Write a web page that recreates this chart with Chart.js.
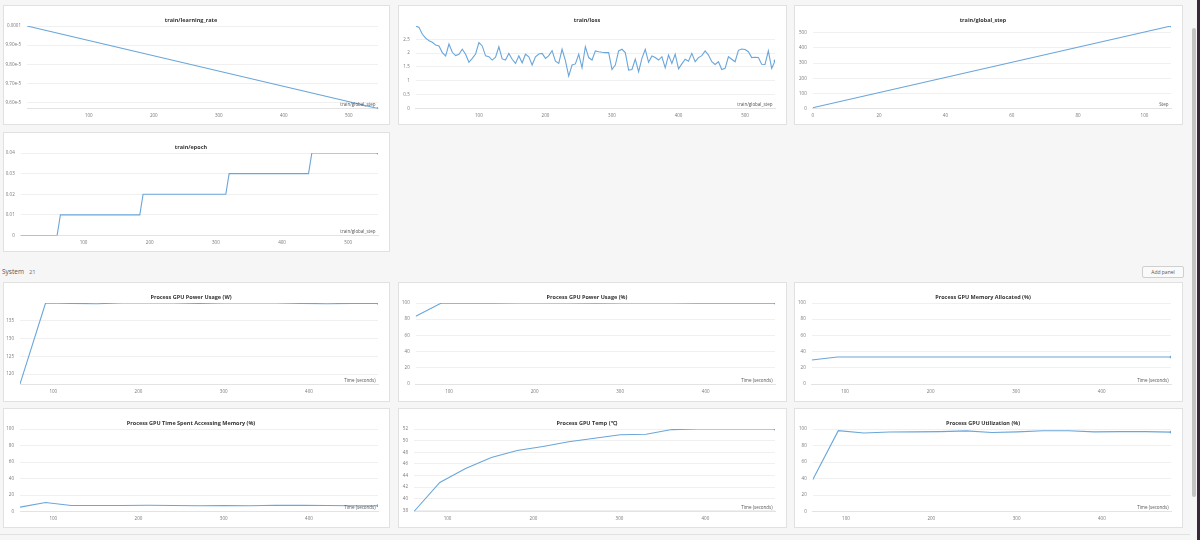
<!DOCTYPE html>
<html>
<head>
<meta charset="utf-8">
<title>Training dashboard</title>
<script src="https://cdn.jsdelivr.net/npm/chart.js@4.4.0/dist/chart.umd.min.js"></script>
<style>
  body { margin: 0; width: 1200px; height: 540px; background: #f6f6f6; overflow: hidden; position: relative; font-family: 'Open Sans', sans-serif; }
  .panel { position: absolute; box-sizing: border-box; background: #fff; border: 1px solid #e1e1e1; }
  .panel canvas { display: block; }
  #section { position: absolute; left: 2px; top: 267px; font-size: 6.5px; color: #555; }
  #section span { color: #777; margin-left: 5px; font-size: 6px; }
  #addPanel { position: absolute; left: 1142px; top: 266px; width: 42px; height: 12px; box-sizing: border-box; border: 1px solid #cfcfcf; border-radius: 2px; background: #fafafa; color: #555; font-size: 5px; line-height: 10px; text-align: center; }
  #scroll { position: absolute; left: 1192px; top: 28px; width: 4px; height: 469px; background: #c4c4c4; border-radius: 2px; }
  #edge { position: absolute; left: 1197px; top: 0; width: 3px; height: 540px; background: #3a2838; }
  #bottomLine { position: absolute; left: 0; top: 534px; width: 1190px; height: 1px; background: #e2e2e2; }
</style>
</head>
<body>
<div id="section">System<span>21</span></div>
<div id="addPanel">Add panel</div>
<div id="scroll"></div>
<div id="edge"></div>
<div id="bottomLine"></div>
<script>
const LINE = '#6aa6da';

// train/* charts, x = train/global_step
const lrSteps = [5, 545];
const lrValues = [1.0e-4, 9.57e-5];
const lrTicks = [9.6e-5, 9.7e-5, 9.8e-5, 9.9e-5, 1.0e-4];

const lossSteps = [5, 10, 15, 20, 25, 30, 35, 40, 45, 50,
  55, 60, 65, 70, 75, 80, 85, 90, 95, 100,
  105, 110, 115, 120, 125, 130, 135, 140, 145, 150,
  155, 160, 165, 170, 175, 180, 185, 190, 195, 200,
  205, 210, 215, 220, 225, 230, 235, 240, 245, 250,
  255, 260, 265, 270, 275, 280, 285, 290, 295, 300,
  305, 310, 315, 320, 325, 330, 335, 340, 345, 350,
  355, 360, 365, 370, 375, 380, 385, 390, 395, 400,
  405, 410, 415, 420, 425, 430, 435, 440, 445, 450,
  455, 460, 465, 470, 475, 480, 485, 490, 495, 500,
  505, 510, 515, 520, 525, 530, 535, 540, 545];
const lossValues = [2.98, 2.93, 2.68, 2.54, 2.45, 2.39, 2.29, 2.26, 2.02, 1.90,
  2.33, 2.03, 1.91, 1.96, 2.14, 1.96, 1.67, 1.81, 1.97, 2.38,
  2.26, 1.90, 1.87, 1.75, 1.85, 2.23, 1.79, 1.75, 1.99, 1.78,
  1.63, 1.90, 1.65, 1.96, 1.87, 1.57, 1.87, 1.97, 1.99, 1.81,
  1.91, 2.09, 1.71, 1.63, 2.14, 1.73, 1.17, 1.57, 1.61, 1.96,
  1.47, 2.23, 1.84, 1.75, 2.08, 2.05, 2.03, 2.02, 2.02, 1.41,
  1.57, 2.08, 2.14, 2.02, 1.39, 1.41, 1.78, 1.33, 1.81, 2.14,
  1.67, 1.90, 1.84, 1.75, 1.87, 1.47, 1.93, 1.63, 1.96, 1.43,
  1.61, 1.78, 1.71, 1.99, 1.69, 1.84, 1.91, 2.08, 1.93, 1.69,
  1.59, 1.69, 1.41, 1.45, 1.87, 1.78, 1.69, 2.10, 2.15, 2.13,
  2.05, 1.84, 1.85, 1.84, 1.60, 1.59, 2.08, 1.45, 1.72];
const lossTicks = [0, 0.5, 1, 1.5, 2, 2.5];

const gsX = [0, 108];
const gsValues = [5, 545];
const gsXTicks = [0, 20, 40, 60, 80, 100];
const gsYTicks = [0, 100, 200, 300, 400, 500];

const epochSteps = [5, 60, 65, 185, 190, 315, 320, 440, 445, 545];
const epochValues = [0, 0, 0.01, 0.01, 0.02, 0.02, 0.03, 0.03, 0.04, 0.04];
const epochTicks = [0, 0.01, 0.02, 0.03, 0.04];

const stepTicks = [100, 200, 300, 400, 500];

// System charts, x = time in seconds
const sysTimes = [61, 91, 121, 151, 181, 211, 241, 271, 301, 331, 361, 391, 421, 451, 481];
const powerW = [117.2, 140, 139.9, 139.8, 140, 140, 140, 139.9, 140, 140, 140, 139.9, 139.8, 139.9, 139.9];
const powerPct = [83.6, 100, 99.9, 99.9, 100, 100, 100, 99.9, 100, 100, 100, 99.9, 99.9, 99.9, 99.9];
const memAllocated = [29.6, 33.3, 33.3, 33.3, 33.3, 33.3, 33.3, 33.3, 33.3, 33.3, 33.3, 33.3, 33.3, 33.3, 33.3];
const memAccess = [5.3, 10.9, 7.3, 7.2, 7.3, 7.5, 7.2, 7.0, 7.1, 7.0, 7.6, 7.4, 7.2, 6.9, 7.0];
const gpuTemp = [37.8, 42.8, 45.2, 47.1, 48.3, 49.0, 49.8, 50.4, 51.0, 51.1, 51.9, 52, 52, 52, 52];
const gpuUtil = [38.5, 98, 95.2, 96.3, 96.5, 96.8, 97.7, 95.8, 96.5, 97.8, 97.9, 96.5, 96.8, 96.8, 96.2];
const timeTicks = [100, 200, 300, 400];
const powerTicks = [120, 125, 130, 135];
const pctTicks = [0, 20, 40, 60, 80, 100];
const tempTicks = [38, 40, 42, 44, 46, 48, 50, 52];

Chart.defaults.font.family = "'Open Sans', sans-serif";

// axis name written inside the plot, bottom right
const axisNote = {
    id: 'axisNote',
    afterDraw(chart, args, opts) {
        if (!opts.text) return;
        const {ctx, chartArea} = chart;
        ctx.save();
        ctx.font = "4.5px 'Open Sans', sans-serif";
        ctx.fillStyle = '#555';
        ctx.textAlign = 'right';
        ctx.textBaseline = 'bottom';
        ctx.fillText(opts.text, chartArea.right - 2.5, chartArea.bottom - 1.5);
        ctx.restore();
    }
};

function drawPanel(p) {
    const box = document.createElement('div');
    box.className = 'panel';
    box.style.left = p.left + 'px';
    box.style.top = p.top + 'px';
    box.style.width = p.width + 'px';
    box.style.height = '120px';
    const canvas = document.createElement('canvas');
    box.appendChild(canvas);
    document.body.appendChild(box);

    const last = p.x.length - 1;
    const fmt = p.fmt || (v => String(v));
    return new Chart(canvas, {
        type: 'line',
        data: {
            datasets: [{
                data: p.x.map((x, i) => ({x: x, y: p.y[i]})),
                borderColor: LINE,
                borderWidth: 1.1,
                backgroundColor: LINE,
                pointRadius: ctx => ctx.dataIndex === last ? 1.4 : 0,
                pointBorderWidth: 0,
                tension: 0,
                fill: false
            }]
        },
        options: {
            responsive: true,
            maintainAspectRatio: false,
            animation: false,
            layout: {padding: {left: 0, right: 11, top: 0, bottom: 0}},
            plugins: {
                legend: {display: false},
                tooltip: {enabled: false},
                title: {
                    display: true,
                    text: p.title,
                    color: '#333',
                    font: {size: 5.5, weight: 'bold'},
                    padding: {top: 11.2, bottom: 2.2}
                },
                axisNote: {text: p.note}
            },
            scales: {
                x: {
                    type: 'linear',
                    min: p.xMin,
                    max: p.xMax,
                    afterBuildTicks: s => { s.ticks = p.xTicks.map(v => ({value: v})); },
                    afterFit: s => { s.height = p.bottom - 1; },
                    grid: {display: false, drawTicks: false},
                    border: {display: true, color: '#e3e3e3', width: 1},
                    ticks: {autoSkip: false, maxRotation: 0, padding: 5, color: '#777', font: {size: 4.5}, callback: v => String(v)}
                },
                y: {
                    type: 'linear',
                    min: p.yMin,
                    max: p.yMax,
                    afterBuildTicks: s => { s.ticks = p.yTicks.map(v => ({value: v})); },
                    afterFit: s => { s.width = p.leftW - 1; },
                    grid: {color: '#f0f0f0', drawTicks: false},
                    border: {display: false},
                    ticks: {autoSkip: false, padding: 6, color: '#777', font: {size: 4.5}, callback: fmt}
                }
            }
        },
        plugins: [axisNote]
    });
}

const lrFmt = v => v >= 9.99e-5 ? '0.0001' : v.toExponential(2);

drawPanel({left: 3, top: 5, width: 387, leftW: 24, bottom: 16.5, title: 'train/learning_rate', note: 'train/global_step',
    x: lrSteps, y: lrValues, xMin: 5, xMax: 545, yMin: 9.57e-5, yMax: 1.0e-4, xTicks: stepTicks, yTicks: lrTicks, fmt: lrFmt});
drawPanel({left: 398, top: 5, width: 389, leftW: 17.7, bottom: 16.5, title: 'train/loss', note: 'train/global_step',
    x: lossSteps, y: lossValues, xMin: 5, xMax: 545, yMin: 0, yMax: 2.98, xTicks: stepTicks, yTicks: lossTicks});
drawPanel({left: 794, top: 5, width: 389, leftW: 18.7, bottom: 16.5, title: 'train/global_step', note: 'Step',
    x: gsX, y: gsValues, xMin: 0, xMax: 108, yMin: 0, yMax: 545, xTicks: gsXTicks, yTicks: gsYTicks});
drawPanel({left: 3, top: 132, width: 387, leftW: 17.7, bottom: 16.5, title: 'train/epoch', note: 'train/global_step',
    x: epochSteps, y: epochValues, xMin: 5, xMax: 545, yMin: 0, yMax: 0.04, xTicks: stepTicks, yTicks: epochTicks});

drawPanel({left: 3, top: 282, width: 387, leftW: 17, bottom: 18, title: 'Process GPU Power Usage (W)', note: 'Time (seconds)',
    x: sysTimes, y: powerW, xMin: 61, xMax: 481, yMin: 117.2, yMax: 140, xTicks: timeTicks, yTicks: powerTicks});
drawPanel({left: 398, top: 282, width: 389, leftW: 17.7, bottom: 18, title: 'Process GPU Power Usage (%)', note: 'Time (seconds)',
    x: sysTimes, y: powerPct, xMin: 61, xMax: 481, yMin: 0, yMax: 100, xTicks: timeTicks, yTicks: pctTicks});
drawPanel({left: 794, top: 282, width: 389, leftW: 17.7, bottom: 18, title: 'Process GPU Memory Allocated (%)', note: 'Time (seconds)',
    x: sysTimes, y: memAllocated, xMin: 61, xMax: 481, yMin: 0, yMax: 100, xTicks: timeTicks, yTicks: pctTicks});

drawPanel({left: 3, top: 408, width: 387, leftW: 17, bottom: 16.5, title: 'Process GPU Time Spent Accessing Memory (%)', note: 'Time (seconds)',
    x: sysTimes, y: memAccess, xMin: 61, xMax: 481, yMin: 0, yMax: 100, xTicks: timeTicks, yTicks: pctTicks});
drawPanel({left: 398, top: 408, width: 389, leftW: 16, bottom: 16.5, title: 'Process GPU Temp (\u2103)', note: 'Time (seconds)',
    x: sysTimes, y: gpuTemp, xMin: 61, xMax: 481, yMin: 37.8, yMax: 52, xTicks: timeTicks, yTicks: tempTicks});
drawPanel({left: 794, top: 408, width: 389, leftW: 18.7, bottom: 16.5, title: 'Process GPU Utilization (%)', note: 'Time (seconds)',
    x: sysTimes, y: gpuUtil, xMin: 61, xMax: 481, yMin: 0, yMax: 100, xTicks: timeTicks, yTicks: pctTicks});
</script>
</body>
</html>
